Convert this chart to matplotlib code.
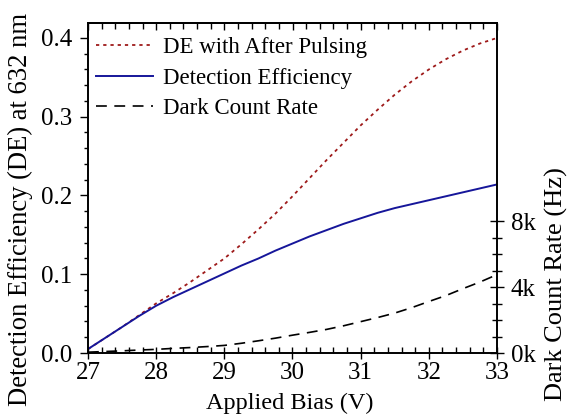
import matplotlib
matplotlib.use("Agg")
import matplotlib.pyplot as plt
from matplotlib.ticker import FixedLocator, MultipleLocator, FuncFormatter

plt.rcParams['font.family'] = ['Liberation Serif']

bias = [27.0, 27.25, 27.5, 27.75, 28.0, 28.25, 28.5, 28.75, 29.0, 29.25, 29.5, 29.75,
        30.0, 30.25, 30.5, 30.75, 31.0, 31.25, 31.5, 31.75, 32.0, 32.25, 32.5, 32.75, 33.0]
de_after = [0.005, 0.019, 0.033, 0.048, 0.063, 0.076, 0.090, 0.105, 0.120, 0.138, 0.157, 0.177,
            0.199, 0.222, 0.245, 0.267, 0.289, 0.309, 0.328, 0.345, 0.360, 0.373, 0.384, 0.393, 0.400]
de = [0.005, 0.019, 0.033, 0.047, 0.060, 0.071, 0.081, 0.091, 0.101, 0.111, 0.120, 0.130,
      0.139, 0.148, 0.156, 0.164, 0.171, 0.178, 0.184, 0.189, 0.194, 0.199, 0.204, 0.209, 0.214]
dark = [50, 90, 130, 180, 220, 280, 330, 390, 460, 590, 740, 900,
        1080, 1250, 1430, 1650, 1900, 2150, 2420, 2750, 3120, 3480, 3900, 4300, 4750]

fs = 18
fig = plt.figure(figsize=(5.69, 4.17), dpi=100)
ax = fig.add_axes([88/569, 1-353/417, (497-88)/569, (353-23)/417])

l1, = ax.plot(bias, de_after, color='#9e1a1a', ls=(0, (1.8, 2.2)), lw=1.3, label='DE with After Pulsing')
l2, = ax.plot(bias, de, color='#16169a', ls='-', lw=1.4, label='Detection Efficiency')

ax.set_xlim(27, 33)
ax.set_ylim(0, 0.419)
ax.xaxis.set_major_locator(MultipleLocator(1))
ax.xaxis.set_minor_locator(MultipleLocator(0.2))
ax.yaxis.set_major_locator(MultipleLocator(0.1))
ax.yaxis.set_minor_locator(MultipleLocator(0.02))
ax.yaxis.set_major_formatter(FuncFormatter(lambda v, p: f"{v:.1f}"))
ax.tick_params(axis='x', which='major', direction='inout', length=9, width=1, labelsize=fs, pad=2)
ax.tick_params(axis='x', which='minor', direction='in', length=4, width=1)
ax.tick_params(axis='y', which='major', direction='out', length=6, width=1, labelsize=fs, right=False, pad=5)
ax.tick_params(axis='y', which='minor', direction='out', length=3, width=1, right=False)
for s in ax.spines.values():
    s.set_linewidth(1.2)

top = ax.secondary_xaxis('top')
top.xaxis.set_major_locator(MultipleLocator(1))
top.xaxis.set_minor_locator(MultipleLocator(0.2))
top.tick_params(which='major', direction='in', length=5, width=1, labeltop=False)
top.tick_params(which='minor', direction='in', length=4, width=1)
top.spines['top'].set_linewidth(1.2)

ax2 = ax.twinx()
l3, = ax2.plot(bias, dark, color='black', ls=(0, (6.5, 4.5)), lw=1.2, label='Dark Count Rate')
ax2.set_ylim(0, 20000)
ax2.yaxis.set_major_locator(FixedLocator([0, 4000, 8000]))
ax2.yaxis.set_minor_locator(FixedLocator([1000, 2000, 3000, 5000, 6000, 7000]))
ax2.yaxis.set_major_formatter(FuncFormatter(lambda v, p: f"{int(v/1000)}k"))
ax2.tick_params(axis='y', which='major', direction='inout', length=10, width=1, labelsize=fs, pad=5)
ax2.tick_params(axis='y', which='minor', direction='inout', length=7, width=1)
for s in ax2.spines.values():
    s.set_linewidth(1.2)

ax.set_xlabel('Applied Bias (V)', fontsize=17.5)
ax.set_ylabel('Detection Efficiency (DE) at 632 nm', fontsize=19.2)
ax2.set_ylabel('Dark Count Rate (Hz)', fontsize=19)
ax.xaxis.set_label_coords(0.494, -0.12)
ax.yaxis.set_label_coords(-0.135, 0.436)
ax2.yaxis.set_label_coords(1.117, 0.209)

leg = ax.legend(handles=[l1, l2, l3], loc='upper left', bbox_to_anchor=(0.0, 1 - 6/330),
                frameon=False, fontsize=16.5,
                handlelength=2.5, handletextpad=0.42, labelspacing=0.42,
                borderaxespad=0.15, borderpad=0.2)

fig.savefig('out.png', dpi=100)
